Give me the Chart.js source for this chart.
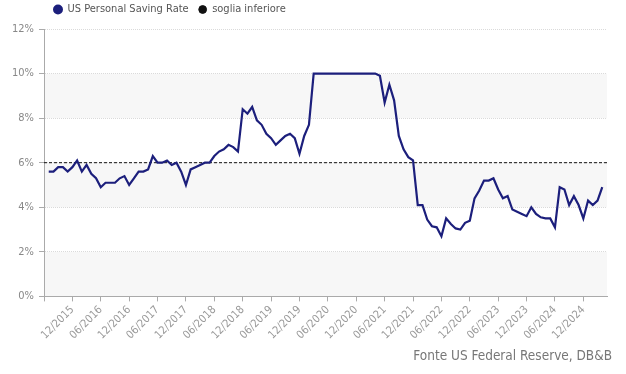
<!DOCTYPE html>
<html>
<head>
<meta charset="utf-8">
<script src="https://cdn.jsdelivr.net/npm/chart.js@4/dist/chart.umd.min.js"></script>
<style>
  html, body { margin: 0; padding: 0; background: #fff; }
</style>
</head>
<body>
<canvas id="chart" width="626" height="374"></canvas>
<script>
// monthly data, first point = 07/2015
const firstMonth = 7, firstYear = 2015

const savingRate = [
  5.6, 5.6, 5.8, 5.8, 5.6, 5.8, 6.1, 5.6, 5.9, 5.5,
  5.3, 4.9, 5.1, 5.1, 5.1, 5.3, 5.4, 5.0, 5.3, 5.6,
  5.6, 5.7, 6.3, 6.0, 6.0, 6.1, 5.9, 6.0, 5.6, 5.0,
  5.7, 5.8, 5.9, 6.0, 6.0, 6.3, 6.5, 6.6, 6.8, 6.7,
  6.5, 8.4, 8.2, 8.5, 7.9, 7.7, 7.3, 7.1, 6.8, 7.0,
  7.2, 7.3, 7.1, 6.4, 7.2, 7.7, 10, 10, 10, 10,
  10, 10, 10, 10, 10, 10, 10, 10, 10, 10,
  9.9, 8.7, 9.5, 8.8, 7.2, 6.6, 6.25, 6.1, 4.1, 4.1,
  3.45, 3.15, 3.1, 2.7, 3.5, 3.25, 3.05, 3.0, 3.3, 3.4,
  4.4, 4.75, 5.2, 5.2, 5.3, 4.8, 4.4, 4.5, 3.9, 3.8,
  3.7, 3.6, 4.0, 3.7, 3.55, 3.5, 3.5, 3.1, 4.9, 4.8,
  4.1, 4.5, 4.1, 3.5, 4.3, 4.1, 4.3, 4.9
]
const threshold = 6 // soglia inferiore

const tickLabels = [
  '12/2015', '06/2016', '12/2016', '06/2017', '12/2017', '06/2018',
  '12/2018', '06/2019', '12/2019', '06/2020', '12/2020', '06/2021',
  '12/2021', '06/2022', '12/2022', '06/2023', '12/2023', '06/2024', '12/2024'
]
const yTicks = [0, 2, 4, 6, 8, 10, 12]

// month labels for every data point
const months = savingRate.map((v, i) => {
  let m = firstMonth - 1 + i
  let y = firstYear + Math.floor(m / 12)
  return String(m % 12 + 1).padStart(2, '0') + '/' + y
})

const xMin = -1
const xMax = months.length
const xTicks = [xMin].concat(tickLabels.map(l => months.indexOf(l)))

const FONT = "'DejaVu Sans Condensed', 'DejaVu Sans', sans-serif"
Chart.defaults.font.family = FONT

// light grey bands behind the plot
const bands = {
  id: 'bands',
  beforeDraw(chart) {
    const { ctx, chartArea, scales: { y } } = chart
    ctx.save()
    ctx.fillStyle = '#f7f7f7'
    for (let i = 0; i < yTicks.length - 1; i += 2) {
      const top = y.getPixelForValue(yTicks[i + 1])
      const bottom = y.getPixelForValue(yTicks[i])
      ctx.fillRect(chartArea.left, top, chartArea.right - chartArea.left, bottom - top)
    }
    ctx.restore()
  }
}

// nudge legend and source line into place
const boxShift = {
  id: 'boxShift',
  beforeInit(chart) {
    const fit = chart.legend.fit
    chart.legend.fit = function () {
      fit.call(this)
      this.height = 29
    }
  },
  afterLayout(chart) {
    chart.legend.left += 44
    chart.legend.right += 44
    chart.legend.top -= 6
    chart.legend.bottom -= 6
    chart.titleBlock.left += 5
    chart.titleBlock.right += 5
  }
}

new Chart(document.getElementById('chart'), {
  type: 'line',
  data: {
    datasets: [
      {
        label: 'US Personal Saving Rate',
        data: savingRate.map((v, i) => ({ x: i, y: v })),
        borderColor: '#1c1f7c',
        backgroundColor: '#1c1f7c',
        borderWidth: 2.2,
        pointRadius: 0,
        tension: 0,
        order: 1
      },
      {
        label: 'soglia inferiore',
        data: [{ x: xMin, y: threshold }, { x: xMax, y: threshold }],
        borderColor: '#111',
        backgroundColor: '#111',
        borderWidth: 1,
        borderDash: [3, 2],
        pointRadius: 0,
        order: 2
      }
    ]
  },
  options: {
    responsive: false,
    animation: false,
    layout: { padding: { left: 0, right: 19, top: 0, bottom: 0 } },
    plugins: {
      tooltip: { enabled: false },
      legend: {
        position: 'top',
        align: 'start',
        labels: {
          usePointStyle: true,
          pointStyle: 'circle',
          boxWidth: 8,
          boxHeight: 5.5,
          padding: 10,
          color: '#555',
          font: { size: 11 }
        }
      },
      title: {
        display: true,
        position: 'bottom',
        align: 'end',
        text: 'Fonte US Federal Reserve, DB&B',
        color: '#777',
        font: { size: 13.5, weight: 'normal' },
        padding: { top: 5, bottom: 9 }
      }
    },
    scales: {
      x: {
        type: 'linear',
        min: xMin,
        max: xMax,
        afterBuildTicks: s => { s.ticks = xTicks.map(v => ({ value: v })) },
        ticks: {
          autoSkip: false,
          minRotation: 45,
          maxRotation: 45,
          padding: 2,
          color: '#999',
          font: { size: 11 },
          callback: v => months[v] && tickLabels.includes(months[v]) ? months[v] : ''
        },
        grid: { drawOnChartArea: false, drawTicks: true, tickLength: 5, tickColor: '#aaa' },
        border: { color: '#aaa', width: 1 }
      },
      y: {
        min: 0,
        max: 12,
        afterBuildTicks: s => { s.ticks = yTicks.map(v => ({ value: v })) },
        afterFit: s => { s.width = 44 },
        ticks: {
          padding: 5,
          color: '#888',
          font: { size: 11 },
          callback: v => v + '%'
        },
        grid: {
          color: '#dadada',
          lineWidth: 1,
          tickLength: 5,
          tickColor: '#aaa',
          tickBorderDash: []
        },
        border: { color: '#aaa', width: 1, dash: [1, 1] }
      }
    }
  },
  plugins: [bands, boxShift]
})
</script>
</body>
</html>
